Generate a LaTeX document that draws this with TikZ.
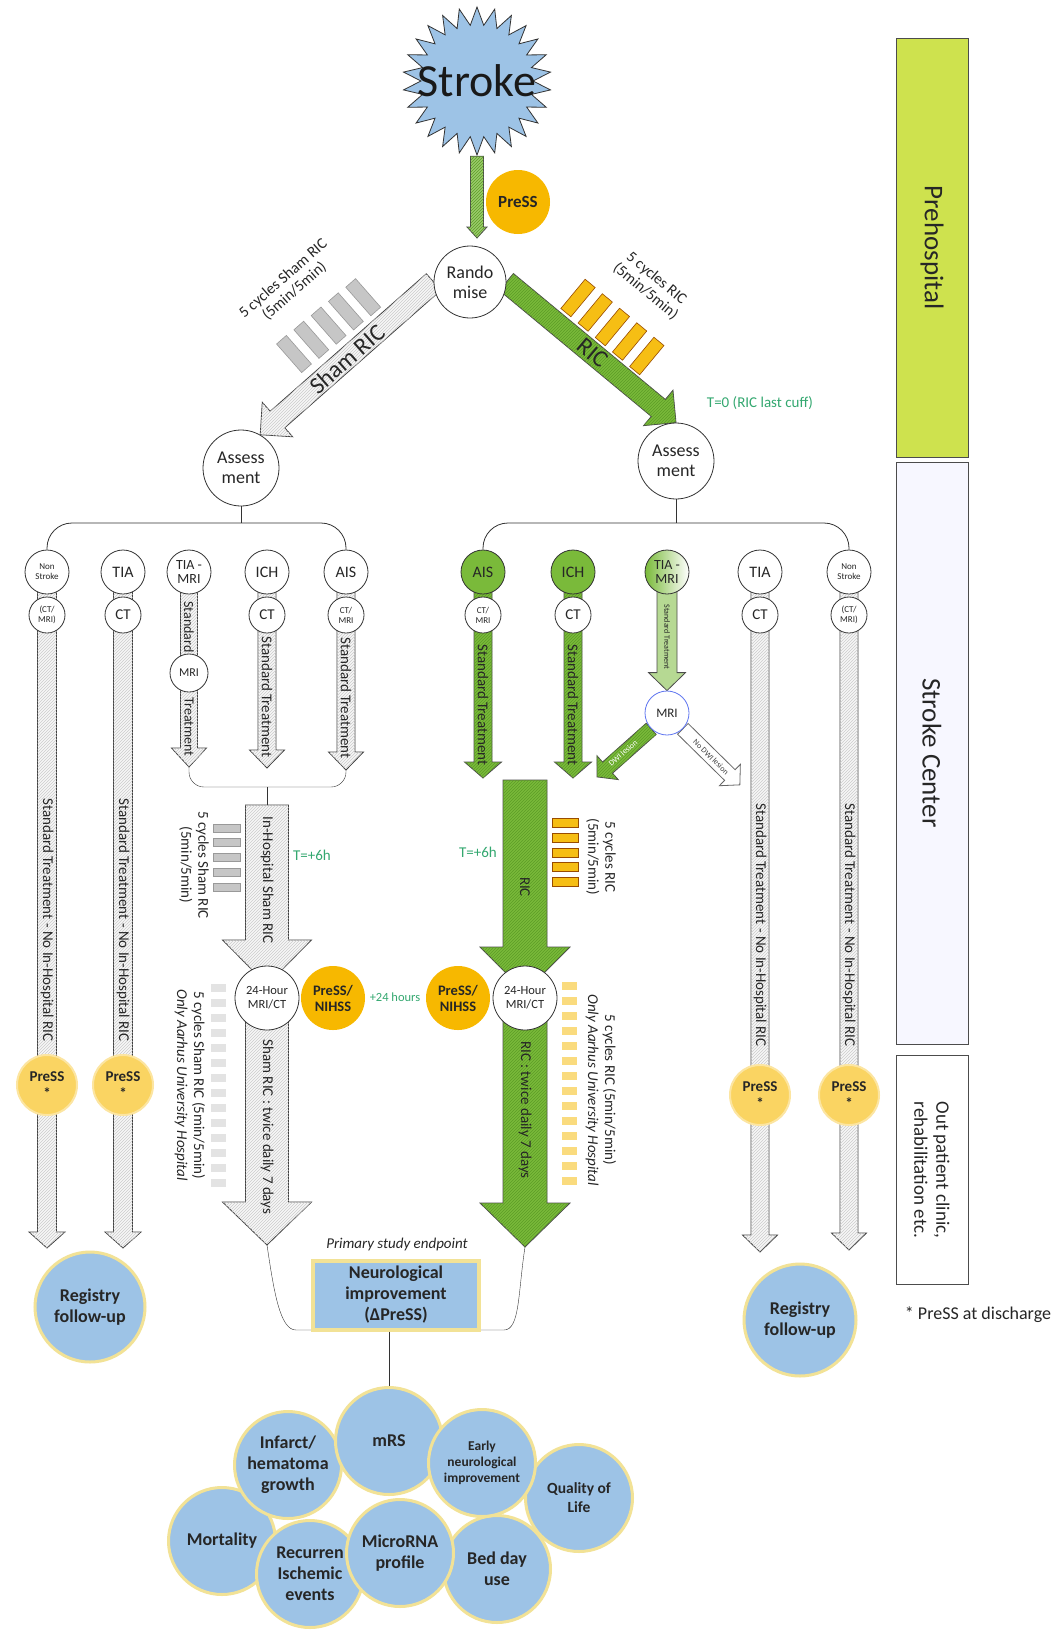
\documentclass[tikz,border=0pt]{standalone}
\usepackage{fontspec}
\setmainfont{Carlito}
\usetikzlibrary{shapes.geometric,calc,patterns}
\pgfdeclarelayer{back}
\pgfsetlayers{back,main}

\definecolor{ricgreen}{RGB}{122,186,58}
\definecolor{ricstripe}{RGB}{92,156,38}
\definecolor{pressgold}{RGB}{247,184,0}
\definecolor{presslight}{RGB}{250,212,98}
\definecolor{ltblue}{RGB}{157,195,230}
\definecolor{glow}{RGB}{242,226,150}
\definecolor{prehosp}{RGB}{206,226,78}
\definecolor{timegreen}{RGB}{52,168,112}
\definecolor{ricorange}{RGB}{246,190,20}

\newcommand{\fsz}[2]{\fontsize{#1}{#2}\selectfont}
\newcommand{\blockarr}[6][]{%
  \path let \p1=($(#3)-(#2)$) in
    \pgfextra{\pgfmathsetmacro\barang{atan2(\y1,\x1)}\pgfmathsetmacro\barlen{veclen(\x1,\y1)}%
      \global\let\barang\barang\global\let\barlen\barlen};
  \begin{scope}[shift={(#2)}, rotate=\barang]
    \path[#1] (0,-#4) -- ({\barlen-#6},-#4) -- ({\barlen-#6},-#5) -- (\barlen,0)
      -- ({\barlen-#6},#5) -- ({\barlen-#6},#4) -- (0,#4) -- cycle;
  \end{scope}}

\tikzset{
  circ/.style={circle, draw=black!80, fill=white, inner sep=0pt, align=center, text=black!85, line width=0.8pt},
  gold/.style={circle, fill=pressgold, inner sep=0pt, minimum size=64pt, align=center, text=black!85, font=\bfseries\fsz{14.5}{16}},
  disch/.style={circle, fill=presslight, draw=presslight!60, line width=2pt, inner sep=0pt, minimum size=60pt, align=center, text=black!85, font=\bfseries\fsz{15}{17}},
  outc/.style={circle, fill=ltblue, draw=glow, line width=3pt, inner sep=0pt, minimum size=107pt, align=center, text=black!85, font=\bfseries\fsz{18}{21}},
  shamarr/.style={draw=black!75, line width=0.8pt, fill=gray!6, postaction={pattern=north east lines, pattern color=gray!40}},
  ricarr/.style={draw=black!70, line width=0.8pt, fill=ricgreen, postaction={pattern=north east lines, pattern color=ricstripe}},
  tmarr/.style={draw=black!70, line width=0.8pt, fill=ricgreen!55},
  nodwiarr/.style={draw=black!60, line width=0.8pt, fill=white},
  arrtxt/.style={rotate=-90, text=black!85, font=\fsz{15}{17}},
  timetxt/.style={text=timegreen, font=\fsz{15}{17}},
  shambar/.style={draw=gray!80, fill=gray!45, inner sep=0pt, line width=0.6pt},
  ricbar/.style={draw=orange!60!black, fill=ricorange, inner sep=0pt, line width=0.6pt},
  lshambar/.style={fill=gray!22, inner sep=0pt, minimum width=15pt, minimum height=8pt},
  lricbar/.style={fill=ricorange!55, inner sep=0pt, minimum width=15pt, minimum height=8pt},
  sidebox/.style={rotate=-90, draw=black!70, line width=0.8pt, inner sep=0pt, minimum height=72pt, align=center, text=black!85}
}

\begin{document}
\begin{tikzpicture}[x=1pt, y=-1pt, line width=0.8pt]
\useasboundingbox (0,0) rectangle (1060,1630);

\node[star, star points=26, star point ratio=1.32, minimum size=148pt, inner sep=0pt, draw=black!80, fill=ltblue] (stroke) at (477,81) {};
\node[font=\fsz{46}{50}, text=black!90] (strokelbl) at (stroke.center) {Stroke};
\node[gold, font=\bfseries\fsz{17}{18}] (press) at (518,202) {PreSS};
\node[circ, minimum size=72pt, font=\fsz{18}{20}] (rand) at (470,282) {Rando\\mise};
\node[circ, minimum size=76pt, font=\fsz{18}{20}] (assL) at (241,468) {Assess\\ment};
\node[circ, minimum size=76pt, font=\fsz{18}{20}] (assR) at (676,461) {Assess\\ment};

\foreach \i in {0,...,4}
  \node[shambar, rotate=41.3, minimum width=13pt, minimum height=38pt] (sbar\i) at ({294+17.3*\i},{354-14.2*\i}) {};
\foreach \i in {0,...,4}
  \node[ricbar, rotate=-39.7, minimum width=13pt, minimum height=38pt] (rbar\i) at ({578+17.2*\i},{298+14.5*\i}) {};
\node[rotate=41.3, align=center, font=\fsz{15.5}{17}, text=black!85] (shamcyc) at (289,285) {5 cycles Sham RIC\\(5min/5min)};
\node[rotate=-39.7, align=center, font=\fsz{15.5}{17}, text=black!85] (riccyc) at (651,285) {5 cycles RIC\\(5min/5min)};
\node[rotate=41.3, font=\fsz{24}{26}, text=black!85] (shamlbl) at (347,359) {Sham RIC};
\node[rotate=-39.7, font=\fsz{24}{26}, text=black!85] (riclbl) at (593,353) {RIC};
\node[timetxt] (t0) at (760,403) {T=0 (RIC last cuff)};

\node[circ, minimum size=44pt, font=\fsz{9}{10}] (nsL1) at (47,572) {Non\\Stroke};
\node[circ, minimum size=44pt, font=\fsz{16}{17}] (tiaL1) at (123,572) {TIA};
\node[circ, minimum size=44pt, font=\fsz{14}{14}] (tmL1) at (189,572) {TIA -\\MRI};
\node[circ, minimum size=44pt, font=\fsz{16}{17}] (ichL1) at (267,572) {ICH};
\node[circ, minimum size=44pt, font=\fsz{16}{17}] (aisL1) at (346,572) {AIS};
\node[circ, minimum size=36pt, font=\fsz{9}{10}] (nsL2) at (47,615) {(CT/\\MRI)};
\node[circ, minimum size=36pt, font=\fsz{15}{16}] (tiaL2) at (123,615) {CT};
\node[circ, minimum size=36pt, font=\fsz{15}{16}] (ichL2) at (267,615) {CT};
\node[circ, minimum size=36pt, font=\fsz{9}{10}] (aisL2) at (346,615) {CT/\\MRI};
\node[circ, minimum size=38pt, font=\fsz{12}{13}] (tmL2) at (189,673) {MRI};

\node[circ, minimum size=44pt, font=\fsz{16}{17}, fill=ricgreen] (aisR1) at (483,572) {AIS};
\node[circ, minimum size=44pt, font=\fsz{16}{17}, fill=ricgreen] (ichR1) at (573,572) {ICH};
\node[circ, minimum size=44pt, font=\fsz{14}{14}, left color=ricgreen, right color=white] (tmR1) at (667,572) {TIA -\\MRI};
\node[circ, minimum size=44pt, font=\fsz{16}{17}] (tiaR1) at (760,572) {TIA};
\node[circ, minimum size=44pt, font=\fsz{9}{10}] (nsR1) at (849,572) {Non\\Stroke};
\node[circ, minimum size=36pt, font=\fsz{9}{10}] (aisR2) at (483,615) {CT/\\MRI};
\node[circ, minimum size=36pt, font=\fsz{15}{16}] (ichR2) at (573,615) {CT};
\node[circ, minimum size=36pt, font=\fsz{15}{16}] (tiaR2) at (760,615) {CT};
\node[circ, minimum size=36pt, font=\fsz{9}{10}] (nsR2) at (849,615) {(CT/\\MRI)};
\node[circ, minimum size=44pt, font=\fsz{13}{14}, draw=ltblue!60!blue] (tmR2) at (667,713) {MRI};

\node[arrtxt, font=\fsz{14}{15}] (stdL3a) at (189,627) {Standard};
\node[arrtxt, font=\fsz{14}{15}] (stdL3b) at (189,727) {Treatment};
\node[arrtxt] (stdL4) at (267,697) {Standard Treatment};
\node[arrtxt] (stdL5) at (346,698) {Standard Treatment};
\node[arrtxt] (stdR1) at (483,705) {Standard Treatment};
\node[arrtxt] (stdR2) at (573,705) {Standard Treatment};
\node[arrtxt, font=\fsz{8}{9}] (stdR3) at (667,637) {Standard Treatment};
\node[rotate=41.6, font=\fsz{8}{9}, text=white] (dwilbl) at (623,753) {DWI lesion};
\node[rotate=-44.5, font=\fsz{8}{9}, text=black!75] (nodwilbl) at (711,757) {No DWI lesion};
\node[arrtxt] (noricL1) at (47,920) {Standard Treatment - No In-Hospital RIC};
\node[arrtxt] (noricL2) at (123,920) {Standard Treatment - No In-Hospital RIC};
\node[arrtxt] (noricR1) at (760,925) {Standard Treatment - No In-Hospital RIC};
\node[arrtxt] (noricR2) at (849,925) {Standard Treatment - No In-Hospital RIC};

\foreach \i in {0,...,4}
  \node[shambar, minimum width=27pt, minimum height=8pt] (hsbar\i) at (226.5,{828+14.7*\i}) {};
\foreach \i in {0,...,4}
  \node[ricbar, minimum width=26pt, minimum height=9pt] (hrbar\i) at (565,{823+14.7*\i}) {};
\foreach \i in {0,...,13}
  \node[lshambar] (lsbar\i) at (218,{988+15*\i}) {};
\foreach \i in {0,...,13}
  \node[lricbar] (lrbar\i) at (569.5,{986+15*\i}) {};

\node[arrtxt, align=center] (cycL) at (194,865) {5 cycles Sham RIC\\(5min/5min)};
\node[arrtxt, align=center] (cycR) at (601,857) {5 cycles RIC\\(5min/5min)};
\node[arrtxt, align=center] (aarL) at (190,1085) {5 cycles Sham RIC (5min/5min)\\\textit{Only Aarhus University Hospital}};
\node[arrtxt, align=center] (aarR) at (601,1090) {5 cycles RIC (5min/5min)\\\textit{Only Aarhus University Hospital}};
\node[timetxt] (t6L) at (312,855) {T=+6h};
\node[timetxt] (t6R) at (478,852) {T=+6h};
\node[arrtxt] (inhlbl) at (267,880) {In-Hospital Sham RIC};
\node[arrtxt] (ricmid) at (525,887) {RIC};
\node[arrtxt] (shamweek) at (267,1127) {Sham RIC : twice daily 7 days};
\node[arrtxt] (ricweek) at (525,1110) {RIC : twice daily 7 days};

\node[circ, minimum size=64pt, font=\fsz{12.5}{14}] (hourL) at (267,998) {24-Hour\\MRI/CT};
\node[circ, minimum size=64pt, font=\fsz{12.5}{14}] (hourR) at (525,998) {24-Hour\\MRI/CT};
\node[gold] (nihL) at (333,998) {PreSS/\\NIHSS};
\node[gold] (nihR) at (458,998) {PreSS/\\NIHSS};
\node[text=timegreen, font=\fsz{12.5}{14}] (plus24) at (395,997) {+24 hours};

\node[disch] (dischL1) at (47,1085) {PreSS\\*};
\node[disch] (dischL2) at (123,1085) {PreSS\\*};
\node[disch] (dischR1) at (760,1095) {PreSS\\*};
\node[disch] (dischR2) at (849,1095) {PreSS\\*};
\node[outc, minimum size=110pt] (regL) at (90,1307) {Registry\\follow-up};
\node[outc, minimum size=112pt] (regR) at (800,1320) {Registry\\follow-up};
\node[font=\fsz{18}{20}, text=black!85] (note) at (978,1315) {* PreSS at discharge};

\node[font=\itshape\fsz{15}{17}, text=black!85] (primlbl) at (397,1244) {Primary study endpoint};
\node[draw=glow, line width=4pt, fill=ltblue, minimum width=166pt, minimum height=69pt, align=center, font=\bfseries\fsz{18}{21}, text=black!85] (endpt) at (396,1295) {Neurological\\improvement\\(ΔPreSS)};

\node[outc] (mort) at (222,1541) {Mortality};
\node[outc, font=\bfseries\fsz{15.5}{19}] (qol) at (579,1498) {Quality of\\Life};
\node[outc] (infarct) at (288,1465) {Infarct/\\hematoma\\growth};
\node[outc] (mrs) at (389,1441) {mRS};
\node[outc] (bed) at (497,1569) {Bed day\\use};
\node[outc, font=\bfseries\fsz{13.5}{16}] (early) at (482,1463) {Early\\neurological\\improvement};
\node[outc] (recur) at (310,1574) {Recurren\\Ischemic\\events};
\node[outc] (mirna) at (400,1553) {MicroRNA\\profile};

\node[sidebox, fill=prehosp, minimum width=419pt, font=\fsz{27}{30}] (prebox) at (932,247.5) {Prehospital};
\node[sidebox, fill=blue!3, minimum width=582pt, font=\fsz{27}{30}] (scbox) at (932,753) {Stroke Center};
\node[sidebox, fill=white, minimum width=229pt, font=\fsz{19}{22}] (opbox) at (932,1170) {Out patient clinic,\\rehabilitation etc.};

\coordinate (strokeend) at (477,238);
\coordinate (brL) at (241,523);
\coordinate (brR) at (676,523);
\coordinate (nsLtip) at (47,1248);
\coordinate (tiaLtip) at (123,1248);
\coordinate (tmLtip) at (189,767);
\coordinate (ichLtip) at (267,768);
\coordinate (aisLtip) at (346,770);
\coordinate (joinL) at (267,787);
\coordinate (inhtop) at (267,805);
\coordinate (inhtip) at (267,985);
\coordinate (shamtip) at (267,1245);
\coordinate (aisRtip) at (483,778);
\coordinate (ichRtip) at (573,778);
\coordinate (dwitip) at (597,777);
\coordinate (nodwitip) at (740,785);
\coordinate (tiaRtip) at (760,1252);
\coordinate (nsRtip) at (849,1250);
\coordinate (rictop) at (525,780);
\coordinate (rictip) at (525,992);
\coordinate (greentip) at (525,1247);
\coordinate (brkL) at (296,1330);
\coordinate (brkR) at (504,1330);

\draw[black!80] (assL.south) -- (brL);
\draw[black!80, rounded corners=25pt] (nsL1.north) |- (brL) -| (aisL1.north);
\draw[black!80] (assR.south) -- (brR);
\draw[black!80, rounded corners=25pt] (aisR1.north) |- (brR) -| (nsR1.north);
\draw[black!80] (mrs.north |- endpt.south) -- (mrs.north);

\begin{pgfonlayer}{back}
\fill[white] (0,0) rectangle (1060,1630);
\blockarr[ricarr, fill=ricgreen!75]{stroke.south}{strokeend}{6.5}{10}{11}
\blockarr[shamarr]{rand.west}{assL.60}{11}{23}{23}
\blockarr[ricarr]{rand.east}{assR.north}{11}{23}{23}
\blockarr[shamarr]{nsL1.center}{nsLtip}{9.5}{18}{16}
\blockarr[shamarr]{tiaL1.center}{tiaLtip}{9.5}{18}{16}
\blockarr[shamarr]{tmL1.center}{tmLtip}{8.5}{17.5}{19}
\blockarr[shamarr]{ichL1.center}{ichLtip}{9}{17.5}{18}
\blockarr[shamarr]{aisL1.center}{aisLtip}{9}{17.5}{18}
\draw[black!80, rounded corners=15pt] (tmLtip) |- (joinL) -| (aisLtip);
\draw[black!80] (joinL) -- (inhtop);
\blockarr[shamarr]{inhtop}{inhtip}{21.5}{44.5}{45}
\blockarr[shamarr]{hourL.center}{shamtip}{21.5}{44.5}{43}
\blockarr[ricarr]{aisR1.center}{aisRtip}{9}{18.5}{16}
\blockarr[ricarr]{ichR1.center}{ichRtip}{9}{18.5}{16}
\blockarr[tmarr]{tmR1.center}{tmR2.north}{10}{18.5}{18}
\blockarr[ricarr]{tmR2.225}{dwitip}{7.5}{16}{14}
\blockarr[nodwiarr]{tmR2.-45}{nodwitip}{7.5}{15}{14}
\blockarr[shamarr]{tiaR1.center}{tiaRtip}{9}{17.5}{17}
\blockarr[shamarr]{nsR1.center}{nsRtip}{9}{17.5}{17}
\blockarr[ricarr]{rictop}{rictip}{22}{45}{45}
\blockarr[ricarr]{hourR.center}{greentip}{22}{45}{44}
\draw[black!80] (shamtip) .. controls (274,1292) and (280,1330) .. (brkL) -- (brkR) .. controls (520,1330) and (518,1292) .. (greentip);
\end{pgfonlayer}
\end{tikzpicture}
\end{document}
